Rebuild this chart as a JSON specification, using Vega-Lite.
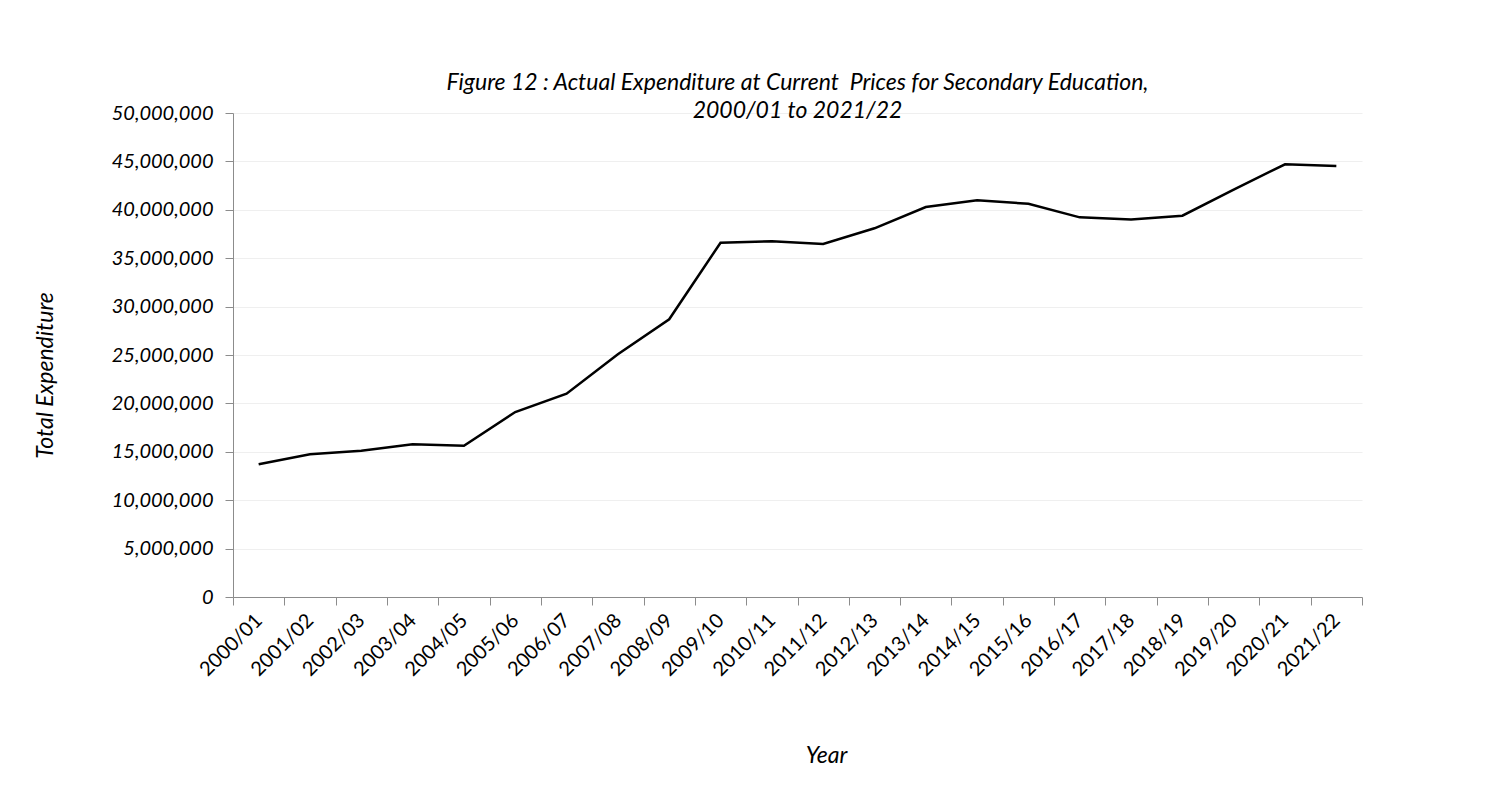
{
  "$schema": "https://vega.github.io/schema/vega-lite/v6.json",
  "width": 1129,
  "height": 484,
  "autosize": {"type": "none"},
  "padding": {"left": 233, "top": 113, "right": 134, "bottom": 207},
  "background": "white",
  "title": {
    "text": ["Figure 12 : Actual Expenditure at Current \u00a0Prices for Secondary Education,", "2000/01 to 2021/22"],
    "font": "Lato",
    "fontStyle": "italic",
    "fontWeight": "normal",
    "fontSize": 23,
    "lineHeight": 28,
    "color": "#000000",
    "anchor": "middle",
    "offset": -20
  },
  "data": {
    "values": [
      {"year": "2000/01", "value": 13710000},
      {"year": "2001/02", "value": 14740000},
      {"year": "2002/03", "value": 15110000},
      {"year": "2003/04", "value": 15770000},
      {"year": "2004/05", "value": 15630000},
      {"year": "2005/06", "value": 19110000},
      {"year": "2006/07", "value": 21000000},
      {"year": "2007/08", "value": 25070000},
      {"year": "2008/09", "value": 28690000},
      {"year": "2009/10", "value": 36600000},
      {"year": "2010/11", "value": 36740000},
      {"year": "2011/12", "value": 36470000},
      {"year": "2012/13", "value": 38090000},
      {"year": "2013/14", "value": 40290000},
      {"year": "2014/15", "value": 40980000},
      {"year": "2015/16", "value": 40630000},
      {"year": "2016/17", "value": 39220000},
      {"year": "2017/18", "value": 39010000},
      {"year": "2018/19", "value": 39390000},
      {"year": "2019/20", "value": 42090000},
      {"year": "2020/21", "value": 44700000},
      {"year": "2021/22", "value": 44520000}
    ]
  },
  "mark": {"type": "line", "color": "#000000", "strokeWidth": 2.5},
  "encoding": {
    "x": {
      "field": "year",
      "type": "ordinal",
      "sort": null,
      "scale": {"type": "band", "paddingInner": 0, "paddingOuter": 0},
      "axis": {
        "title": "Year",
        "titleFont": "Lato",
        "titleFontStyle": "italic",
        "titleFontWeight": "normal",
        "titleFontSize": 23,
        "titleColor": "#000000",
        "titleX": 593,
        "titleY": 158,
        "titleBaseline": "middle",
        "titleAlign": "center",
        "labelAngle": -45,
        "labelAlign": "right",
        "labelBaseline": "middle",
        "labelFont": "Lato",
        "labelFontSize": 20,
        "labelColor": "#000000",
        "labelPadding": 12,
        "bandPosition": 0,
        "tickBand": "extent",
        "tickSize": 8,
        "tickColor": "#8c8c8c",
        "domainColor": "#8c8c8c",
        "grid": false
      }
    },
    "y": {
      "field": "value",
      "type": "quantitative",
      "scale": {"domain": [0, 50000000], "nice": false},
      "axis": {
        "title": "Total Expenditure",
        "titleFont": "Lato",
        "titleFontStyle": "italic",
        "titleFontWeight": "normal",
        "titleFontSize": 23,
        "titleColor": "#000000",
        "titleX": -188,
        "titleY": 262,
        "titleAngle": -90,
        "titleAlign": "center",
        "titleBaseline": "middle",
        "values": [0, 5000000, 10000000, 15000000, 20000000, 25000000, 30000000, 35000000, 40000000, 45000000, 50000000],
        "format": ",d",
        "labelFont": "Lato",
        "labelFontStyle": "italic",
        "labelFontSize": 20,
        "labelColor": "#000000",
        "labelPadding": 12,
        "tickSize": 8,
        "tickColor": "#8c8c8c",
        "domainColor": "#8c8c8c",
        "grid": true,
        "gridColor": "#efefef",
        "gridWidth": 1
      }
    }
  },
  "config": {
    "view": {"stroke": null}
  }
}
